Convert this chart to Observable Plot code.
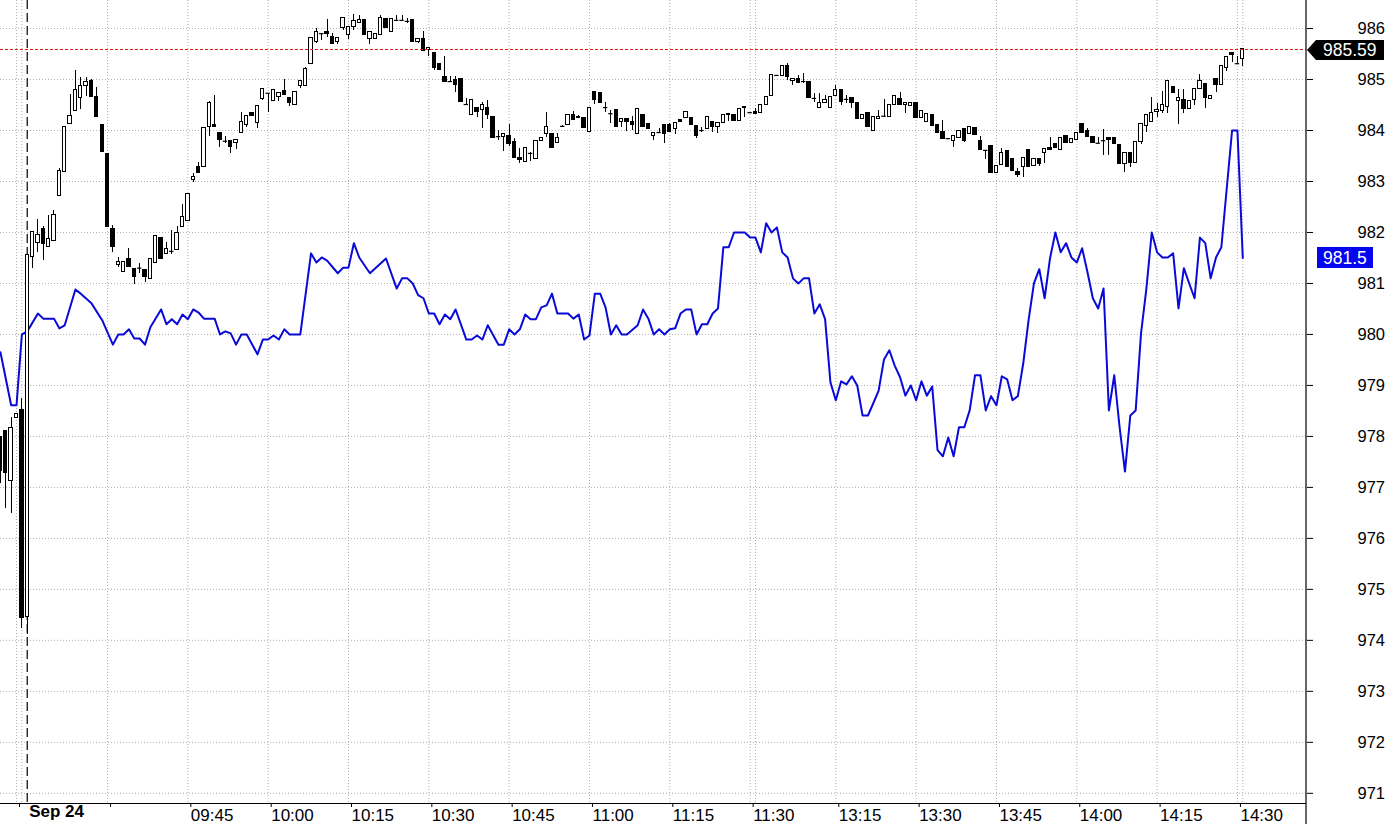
<!DOCTYPE html>
<html><head><meta charset="utf-8">
<script src="https://cdn.jsdelivr.net/npm/d3@7"></script>
<script src="https://cdn.jsdelivr.net/npm/@observablehq/plot@0.6"></script>
<style>html,body{margin:0;padding:0;background:#fff;overflow:hidden;} #chart svg{display:block;}</style>
</head><body><div id="chart"></div>
<script>
// bar index of the first entry (bars before 0 belong to the previous session)
const firstBar = -5;
const openP = [977.98,978.10,977.12,978.37,978.51,
974.45,981.51,981.79,982.06,981.71,981.84,982.71,983.18,984.12,984.39,984.63,984.88,984.98,984.65,984.10,983.53,982.06,981.37,981.22,981.47,
981.28,981.30,981.26,981.08,981.41,981.90,981.57,981.63,981.65,982.10,982.22,983.02,983.28,983.28,984.06,984.10,983.96,983.79,983.80,983.75,
983.96,984.10,984.35,984.14,984.61,984.73,984.57,984.65,984.77,984.63,984.51,984.88,984.88,985.31,985.73,985.90,985.94,985.84,985.73,986.02,
985.88,986.04,986.10,986.16,985.79,985.79,985.88,986.18,985.94,986.16,986.16,986.14,986.16,985.73,985.79,985.57,985.53,985.31,985.04,984.96,
985.00,985.02,984.51,984.31,984.45,984.41,984.45,984.26,983.88,983.88,983.90,983.77,983.47,983.39,983.55,983.45,983.80,983.94,983.94,983.75,
984.08,984.10,984.30,984.26,984.24,983.98,984.75,984.73,984.45,984.33,984.41,984.16,984.22,984.16,983.94,984.30,984.12,983.90,983.96,984.10,
984.10,984.02,984.20,984.24,984.24,984.08,984.00,984.02,984.16,984.06,984.14,984.30,984.31,984.18,984.45,984.35,984.37,984.35,984.51,984.67,
985.08,985.06,985.26,984.98,985.02,984.96,984.96,984.63,984.45,984.53,984.45,984.67,984.80,984.61,984.63,984.53,984.22,984.35,984.00,984.22,
984.28,984.26,984.51,984.61,984.51,984.49,984.53,984.24,984.16,984.30,984.10,983.98,983.84,983.80,983.86,984.02,983.94,984.04,983.80,983.61,
983.69,983.16,983.33,983.59,983.45,983.18,983.29,983.61,983.31,983.45,983.55,983.65,983.73,983.61,983.90,983.75,983.82,984.12,984.00,983.88,
983.75,983.80,983.86,983.86,983.71,983.35,983.55,983.37,983.77,984.08,984.16,984.37,984.39,984.47,984.86,984.57,984.59,984.43,984.59,984.82,
984.92,984.61,985.02,984.90,985.22,985.53,985.31,985.41];
const highP = [977.98,978.10,978.37,978.43,978.75,
981.55,982.00,982.26,982.12,982.33,982.43,983.26,984.06,984.71,985.18,985.04,985.04,985.00,984.84,984.10,983.53,982.14,981.51,981.43,981.69,
981.28,981.39,981.26,981.47,981.94,981.90,981.80,982.04,982.12,982.55,982.75,983.16,983.37,984.04,984.57,984.69,983.96,983.88,983.80,983.82,
984.35,984.28,984.35,984.49,984.82,984.73,984.79,984.73,985.00,984.63,984.75,984.98,985.24,985.82,986.00,985.90,986.18,985.90,985.82,986.20,
986.04,986.28,986.26,986.16,985.94,985.90,986.26,986.18,986.18,986.26,986.26,986.20,986.16,985.79,985.94,985.61,985.53,985.31,985.45,985.06,
985.06,985.02,984.63,984.59,984.45,984.55,984.59,984.26,984.00,983.94,984.12,983.84,983.65,983.65,983.57,983.80,983.86,984.35,983.94,983.94,
984.10,984.30,984.37,984.30,984.24,984.45,984.75,984.73,984.55,984.39,984.41,984.22,984.22,984.28,984.43,984.30,984.12,983.96,984.04,984.10,
984.14,984.14,984.20,984.37,984.24,984.08,984.06,984.26,984.16,984.14,984.31,984.33,984.31,984.43,984.47,984.35,984.43,984.51,984.65,985.08,
985.08,985.26,985.31,985.02,985.08,985.12,984.96,984.73,984.73,984.69,984.65,984.88,984.80,984.69,984.63,984.53,984.31,984.35,984.26,984.39,
984.61,984.51,984.67,984.75,984.53,984.53,984.53,984.39,984.33,984.30,984.10,984.20,983.84,983.90,984.00,984.02,984.06,984.04,983.88,983.61,
983.69,983.31,983.65,983.59,983.45,983.26,983.47,983.61,983.45,983.45,983.63,983.86,983.73,983.86,983.90,983.84,983.96,984.12,984.04,983.88,
983.86,984.02,983.86,983.86,983.71,983.55,983.55,983.77,984.12,984.30,984.65,984.53,984.77,984.98,984.86,984.80,984.80,984.57,984.82,985.10,
984.92,984.67,985.02,985.26,985.45,985.53,985.45,985.59];
const lowP = [977.08,976.59,976.49,978.37,974.24,
974.12,981.30,981.61,981.45,981.71,981.84,982.71,983.18,984.12,984.39,984.41,984.67,984.65,984.26,983.57,982.10,981.61,981.31,981.22,981.33,
980.98,981.20,981.02,981.08,981.41,981.47,981.57,981.57,981.65,982.10,982.22,982.98,983.16,983.28,983.88,984.06,983.67,983.75,983.55,983.63,
983.96,984.06,984.28,984.04,984.59,984.35,984.57,984.57,984.69,984.47,984.51,984.82,984.88,985.31,985.71,985.77,985.82,985.69,985.69,985.96,
985.79,985.96,986.10,985.88,985.69,985.79,985.88,986.02,985.94,986.16,986.14,986.10,985.73,985.71,985.55,985.45,985.18,985.18,984.96,984.94,
984.75,984.55,984.51,984.31,984.26,984.04,984.22,983.86,983.80,983.59,983.69,983.47,983.35,983.39,983.39,983.45,983.80,983.86,983.65,983.75,
984.06,984.10,984.20,984.24,984.04,983.98,984.51,984.53,984.35,984.14,984.06,984.06,983.98,984.00,983.94,984.06,984.02,983.80,983.94,983.75,
983.98,983.92,984.16,984.24,984.10,983.84,983.96,984.02,983.96,983.94,984.14,984.18,984.18,984.18,984.26,984.35,984.31,984.35,984.51,984.67,
985.08,985.06,984.98,984.88,984.94,984.92,984.63,984.55,984.45,984.53,984.45,984.67,984.49,984.53,984.43,984.22,984.22,984.06,984.00,984.22,
984.26,984.26,984.51,984.51,984.33,984.49,984.24,984.24,984.16,984.08,983.96,983.84,983.84,983.67,983.86,983.77,983.94,983.92,983.61,983.43,
983.16,983.16,983.33,983.29,983.20,983.08,983.08,983.29,983.31,983.29,983.35,983.61,983.65,983.61,983.75,983.75,983.82,983.96,983.88,983.75,
983.75,983.51,983.51,983.73,983.35,983.18,983.28,983.37,983.73,983.96,984.16,984.26,984.33,984.33,984.73,984.12,984.33,984.43,984.49,984.82,
984.43,984.61,984.75,984.90,985.16,985.33,985.31,985.26];
const closeP = [977.33,977.28,978.16,978.43,974.43,
981.55,982.00,981.96,981.77,981.88,982.35,983.20,984.06,984.28,984.80,984.88,984.96,984.65,984.26,983.57,982.10,981.71,981.43,981.43,981.33,
981.12,981.30,981.12,981.47,981.94,981.47,981.67,981.63,981.98,982.31,982.75,983.08,983.16,984.04,984.53,984.06,983.82,983.79,983.67,983.82,
984.16,984.28,984.28,984.49,984.82,984.73,984.79,984.73,984.69,984.53,984.75,984.98,985.20,985.82,985.94,985.90,985.90,985.69,985.82,986.20,
986.04,986.14,986.16,985.88,985.94,985.90,986.20,986.02,986.18,986.16,986.16,986.14,985.73,985.79,985.55,985.61,985.22,985.18,984.96,984.96,
984.90,984.55,984.51,984.59,984.37,984.51,984.31,983.86,983.88,983.94,983.73,983.47,983.43,983.65,983.55,983.80,983.86,984.06,983.65,983.86,
984.08,984.30,984.20,984.24,984.04,984.45,984.59,984.53,984.45,984.33,984.06,984.22,984.16,984.10,984.43,984.06,984.02,983.96,983.96,983.94,
983.98,984.14,984.16,984.37,984.10,983.90,984.00,984.26,984.06,984.14,984.31,984.33,984.18,984.43,984.47,984.35,984.33,984.51,984.65,985.08,
985.08,985.26,985.04,985.02,984.94,984.96,984.63,984.63,984.53,984.59,984.65,984.80,984.55,984.61,984.53,984.22,984.31,984.06,984.26,984.26,
984.28,984.51,984.67,984.51,984.53,984.53,984.24,984.39,984.33,984.08,983.96,983.84,983.84,983.90,984.00,983.80,984.06,983.92,983.61,983.61,
983.16,983.31,983.55,983.29,983.20,983.12,983.47,983.29,983.45,983.35,983.63,983.61,983.65,983.86,983.75,983.84,983.96,983.96,983.88,983.75,
983.75,983.80,983.82,983.73,983.35,983.55,983.37,983.77,984.12,984.30,984.35,984.41,984.51,984.98,984.73,984.63,984.43,984.57,984.82,984.98,
984.63,984.67,984.90,985.26,985.45,985.49,985.31,985.59];

// blue comparison series: bar index and value at each vertex
const blueIdx = [-5,-3,-2,-1,0,2,3,5,6,7,9,10,12,14,16,17,18,19,20,21,22,23,25,26,27,28,29,30,31,32,33,35,36,37,38,39,40,41,43,44,45,46,47,48,49,51,
53,54,55,56,58,59,60,61,62,64,67,69,70,71,72,73,74,75,76,77,78,79,80,82,83,84,85,86,88,89,90,91,92,93,94,95,96,97,98,99,101,102,103,104,105,
106,107,108,109,110,111,112,114,115,116,117,118,119,120,121,122,123,124,125,126,127,128,129,130,131,132,134,135,136,137,138,139,140,141,142,
143,144,145,146,147,148,149,150,151,152,153,154,155,156,157,158,159,160,161,162,163,164,165,166,167,168,169,170,171,172,173,174,175,176,177,
178,179,180,181,182,183,184,185,186,187,188,189,190,191,192,193,194,195,196,197,198,199,200,201,202,203,204,205,206,207,208,209,210,211,212,
213,214,215,216,217,218,219,220,221,222,223,225,226,227];
const blueVal = [979.65,978.61,978.61,980.00,980.06,980.41,980.31,980.31,980.12,980.18,980.88,980.80,980.61,980.28,979.80,980.00,980.00,980.10,979.92,979.92,979.80,980.14,980.49,980.20,980.30,980.20,980.39,980.30,980.49,980.43,980.31,980.31,980.00,980.06,980.02,979.80,980.00,980.00,979.61,979.90,979.90,979.98,979.90,980.10,980.00,980.00,
981.59,981.41,981.51,981.45,981.20,981.31,981.31,981.79,981.51,981.20,981.49,980.90,981.10,981.10,981.00,980.77,980.71,980.41,980.41,980.20,980.39,980.30,980.49,979.90,979.90,979.98,979.90,980.18,979.80,979.80,980.10,980.00,980.10,980.39,980.30,980.30,980.53,980.57,980.80,980.41,980.41,980.31,980.39,979.90,979.98,
980.80,980.80,980.53,980.00,980.18,980.00,980.00,980.18,980.49,980.31,980.00,980.10,980.00,980.10,980.12,980.41,980.49,980.49,980.00,980.20,980.20,980.41,980.51,981.71,981.71,982.00,982.00,981.90,981.90,981.61,982.18,982.00,982.10,981.61,981.51,
981.10,981.00,981.10,981.10,980.41,980.59,980.30,979.06,978.71,979.08,979.02,979.18,979.00,978.41,978.41,978.65,978.90,979.51,979.69,979.39,979.16,978.80,979.00,978.71,979.08,978.80,978.98,977.73,977.61,977.98,977.61,978.18,978.18,978.51,979.20,
979.20,978.51,978.79,978.61,979.18,979.12,978.71,978.79,979.43,980.28,981.00,981.28,980.71,981.49,982.00,981.61,981.79,981.51,981.41,981.69,981.22,980.71,980.51,980.90,978.51,979.20,978.18,977.31,978.41,978.51,980.02,980.90,982.00,981.61,981.51,
981.51,981.59,980.51,981.30,981.00,980.71,981.90,981.79,981.10,981.51,981.71,984.00,984.00,981.50];

const priceTicks = [971,972,973,974,975,976,977,978,979,980,981,982,983,984,985,986];
const timeTickIdx = [-2,15,30,45,60,75,90,105,120,135,151,166,181,196,211,226];
const timeTickLabels = ["","","09:45","10:00","10:15","10:30","10:45","11:00","11:15","11:30","13:15","13:30","13:45","14:00","14:15","14:30"];
const gridIdx = [-2,-1,15,30,45,60,75,90,105,120,135,136,151,166,181,196,211,226,227];
const dayLabel = "Sep 24";
const dayStartIdx = 0;
const lastPrice = 985.59;
const lastBlue = 981.5;

const bars = openP.map((o, k) => ({i: firstBar + k, open: o, high: highP[k], low: lowP[k], close: closeP[k]}));
const bodies = bars.filter(d => d.open !== d.close);
const dojis = bars.filter(d => d.open === d.close);
const blue = blueIdx.map((i, k) => ({i, v: blueVal[k]}));
const labelMap = new Map(timeTickIdx.map((d, k) => [d, timeTickLabels[k]]));

const yDomain = [970.8, 986.55];
const xDomain = [-4.99, 238.9];
const hw = 0.31;
const font = "'Liberation Sans', Arial, sans-serif";

const plot = Plot.plot({
  width: 1388, height: 824,
  marginLeft: 0, marginRight: 82, marginTop: 0, marginBottom: 21,
  style: {fontFamily: font, background: "white", color: "black", overflow: "visible"},
  x: {domain: xDomain, label: null},
  y: {domain: yDomain, label: null},
  marks: [
    Plot.gridY(priceTicks, {stroke: "#b0b0b0", strokeOpacity: 1, strokeDasharray: "1,2"}),
    Plot.gridX(gridIdx, {stroke: "#b0b0b0", strokeOpacity: 1, strokeDasharray: "1,2"}),
    Plot.ruleX([dayStartIdx], {stroke: "black", strokeDasharray: "9,4", strokeWidth: 1.2}),
    Plot.line(blue, {x: "i", y: "v", stroke: "#0a0ad8", strokeWidth: 2}),
    Plot.ruleX(bars, {x: "i", y1: "low", y2: "high", stroke: "black", strokeWidth: 1, shapeRendering: "crispEdges"}),
    Plot.rect(bodies, {x1: d => d.i - hw, x2: d => d.i + hw, y1: "open", y2: "close",
      fill: d => d.close > d.open ? "white" : "black", stroke: "black", strokeWidth: 1, shapeRendering: "crispEdges"}),
    Plot.ruleY(dojis, {x1: d => d.i - hw - 0.1, x2: d => d.i + hw + 0.1, y: "close", stroke: "black", strokeWidth: 1.2}),
    Plot.ruleY([yDomain[0]], {stroke: "black", strokeWidth: 1.2}),
    Plot.axisY({anchor: "right", ticks: priceTicks, tickSize: 6, tickPadding: 45, fontSize: 16.5, tickFormat: d => String(d), label: null}),
    Plot.axisX({anchor: "bottom", ticks: timeTickIdx, tickFormat: d => labelMap.get(d) ?? "", tickSize: 4, tickPadding: 1, textAnchor: "start", dx: 3, fontSize: 17, label: null}),
    Plot.text([dayLabel], {x: dayStartIdx, frameAnchor: "bottom", dy: 13, dx: 2, textAnchor: "start", fontWeight: "bold", fontSize: 17, fill: "black"})
  ]
});

document.getElementById("chart").appendChild(plot);

// decorations: last-price reference line, full-height right axis line and last-value tags
const svg = d3.select(plot);
const xs = plot.scale("x"), ys = plot.scale("y");
const x0 = xs.apply(xDomain[1]);
const yl = Math.round(ys.apply(lastPrice)) + 0.5;
svg.append("line").attr("x1", 0).attr("x2", x0).attr("y1", yl).attr("y2", yl)
  .attr("stroke", "#e01818").attr("stroke-width", 1).attr("stroke-dasharray", "3,2");
svg.append("line").attr("x1", x0).attr("x2", x0).attr("y1", 0).attr("y2", 824).attr("stroke", "black").attr("stroke-width", 1.2);

const yp = ys.apply(lastPrice) + 1;
svg.append("path")
  .attr("d", `M${x0 + 1},${yp} L${x0 + 10},${yp - 10} H${x0 + 78} V${yp + 10} H${x0 + 10} Z`)
  .attr("fill", "black");
svg.append("text").attr("x", x0 + 17).attr("y", yp).attr("dy", "0.36em").attr("text-anchor", "start")
  .attr("fill", "white").attr("font-size", 17.5).attr("font-family", font).text(lastPrice.toFixed(2));

const yb = ys.apply(lastBlue);
svg.append("rect").attr("x", x0 + 11).attr("y", yb - 10.5).attr("width", 56).attr("height", 21).attr("fill", "#0505f0");
svg.append("text").attr("x", x0 + 17).attr("y", yb).attr("dy", "0.36em").attr("text-anchor", "start")
  .attr("fill", "white").attr("font-size", 17.5).attr("font-family", font).text(String(lastBlue));
</script>
</body></html>
